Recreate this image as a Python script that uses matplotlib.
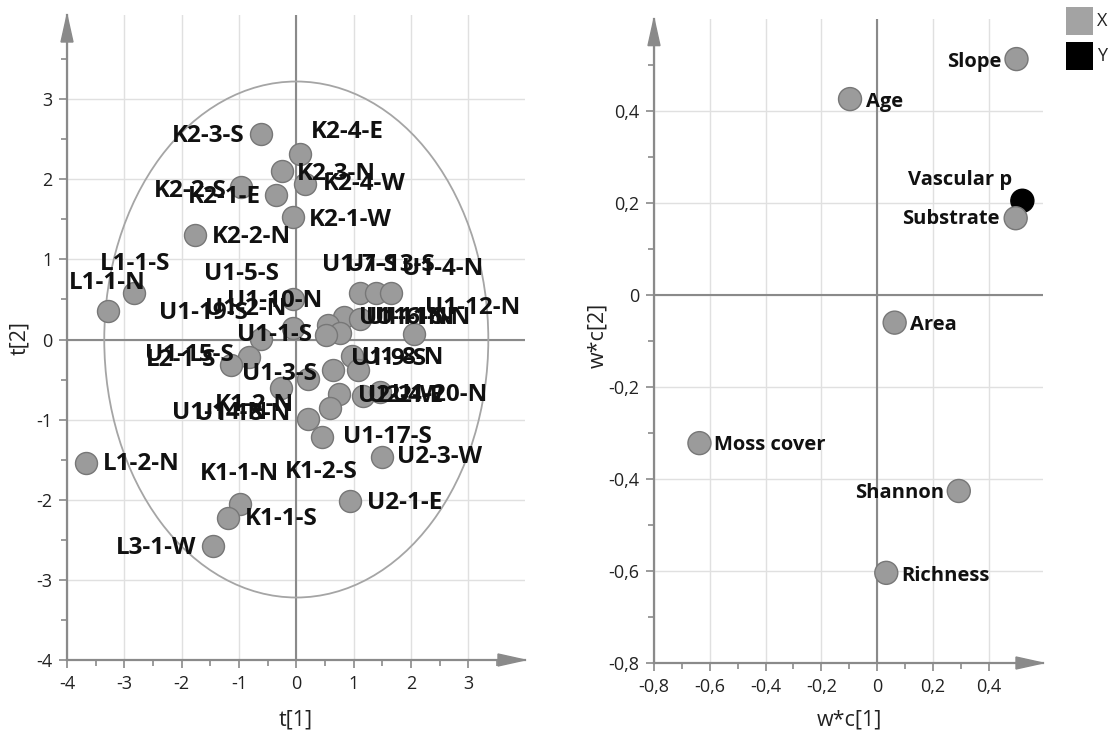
import matplotlib
matplotlib.use('Agg')
import matplotlib.pyplot as plt
from matplotlib.patches import Ellipse, Polygon, Rectangle
from matplotlib.ticker import FixedLocator

plt.rcParams['font.family'] = ['Open Sans', 'DejaVu Sans']

# ---------------- Score plot (t[1] vs t[2]) ----------------
obs_names = ['K2-3-S', 'K2-4-E', 'K2-3-N', 'K2-4-W', 'K2-2-S', 'K2-1-E', 'K2-1-W', 'K2-2-N',
             'L1-1-S', 'L1-1-N', 'U1-10-N', 'U1-7-S', 'U1-13-S', 'U1-4-N', 'U1-11-N', 'U1-5-S',
             'U1-16-N', 'U1-2-N', 'U1-6-N', 'U1-12-N', 'U1-1-S', 'U1-19-S', 'U1-15-S', 'L2-1-S',
             'U1-3-S', 'K1-2-S', 'U1-9-S', 'U1-8-N', 'U1-14-N', 'U2-2-W', 'U2-4-E', 'U1-20-N',
             'K1-2-N', 'U1-18-N', 'U1-17-S', 'U2-3-W', 'L1-2-N', 'U2-1-E', 'K1-1-N', 'K1-1-S',
             'L3-1-W']
t1 = [-0.62, 0.07, -0.25, 0.16, -0.96, -0.35, -0.05, -1.76,
      -2.83, -3.29, -0.06, 1.11, 1.39, 1.66, 0.84, 0.55,
      1.11, 0.76, 0.52, 2.05, -0.06, -0.61, -0.82, -1.14,
      0.20, 0.64, 0.98, 1.08, -0.26, 0.74, 1.16, 1.46,
      0.58, 0.20, 0.44, 1.50, -3.66, 0.93, -0.99, -1.20,
      -1.46]
t2 = [2.56, 2.32, 2.10, 1.94, 1.90, 1.80, 1.53, 1.30,
      0.58, 0.36, 0.51, 0.58, 0.58, 0.58, 0.28, 0.18,
      0.25, 0.08, 0.05, 0.07, 0.14, 0.01, -0.22, -0.32,
      -0.49, -0.38, -0.20, -0.38, -0.61, -0.68, -0.70, -0.66,
      -0.86, -0.99, -1.22, -1.47, -1.54, -2.02, -2.05, -2.23,
      -2.58]
ellipse_radii = (3.35, 3.22)

score_ticks = [-4, -3, -2, -1, 0, 1, 2, 3]
score_ticklabels = ['-4', '-3', '-2', '-1', '0', '1', '2', '3']
score_minor = [-3.5, -2.5, -1.5, -0.5, 0.5, 1.5, 2.5, 3.5]

# label layout (pixel offsets from the point, horizontal alignment)
obs_label_layout = [(-16, -2, 'right'), (11, 22, 'left'), (15, -3, 'left'), (17, 0, 'left'),
                    (-15, -4, 'right'), (-15, -2, 'right'), (15, -3, 'left'), (16, -2, 'left'),
                    (1, 29, 'center'), (0, 28, 'center'), (-66, -2, 'left'), (-38, 28, 'left'),
                    (-30, 28, 'left'), (11, 24, 'left'), (15, -1, 'left'), (-124, 51, 'left'),
                    (15, 1, 'left'), (-135, 24, 'left'), (40, 17, 'left'), (11, 26, 'left'),
                    (-56, -7, 'left'), (-102, 26, 'left'), (-15, 2, 'right'), (-15, 5, 'right'),
                    (-66, 5, 'left'), (-48, -102, 'left'), (-1, -3, 'left'), (4, 12, 'left'),
                    (-109, -25, 'left'), (19, -2, 'left'), (5, 0, 'left'), (12, -3, 'left'),
                    (-115, 3, 'left'), (-113, 5, 'left'), (21, 0, 'left'), (15, 0, 'left'),
                    (16, -1, 'left'), (17, -2, 'left'), (0, 30, 'center'), (17, -1, 'left'),
                    (-16, -2, 'right')]

# ---------------- Loading plot (w*c[1] vs w*c[2]) ----------------
var_names = ['Slope', 'Age', 'Vascular p', 'Substrate', 'Area', 'Moss cover', 'Shannon', 'Richness']
wc1 = [0.500, -0.097, 0.521, 0.497, 0.063, -0.637, 0.293, 0.033]
wc2 = [0.513, 0.426, 0.205, 0.167, -0.060, -0.322, -0.426, -0.604]
var_block = ['X', 'X', 'Y', 'X', 'X', 'X', 'X', 'X']
var_label_layout = [(-15, -3, 'right'), (16, -3, 'left'), (-10, 21, 'right'), (-16, -1, 'right'),
                    (15, -2, 'left'), (15, -2, 'left'), (-15, -2, 'right'), (15, -3, 'left')]

load_xticks = [-0.8, -0.6, -0.4, -0.2, 0.0, 0.2, 0.4]
load_xticklabels = ['-0,8', '-0,6', '-0,4', '-0,2', '0', '0,2', '0,4']
load_xminor = [-0.7, -0.5, -0.3, -0.1, 0.1, 0.3]
load_yticks = [-0.8, -0.6, -0.4, -0.2, 0.0, 0.2, 0.4]
load_yticklabels = ['-0,8', '-0,6', '-0,4', '-0,2', '0', '0,2', '0,4']
load_yminor = [-0.7, -0.5, -0.3, -0.1, 0.1, 0.3, 0.5]

legend_labels = ['X', 'Y']
legend_colors = ['#a3a3a3', '#000000']

# ---------------- styling ----------------
W, H = 1110, 734
AX_GRAY = '#8a8a8a'
GRID = '#e0e0e0'
PT_FILL = '#9b9b9b'
PT_EDGE = '#777777'
TXT = '#222222'

fig = plt.figure(figsize=(W / 100, H / 100), dpi=100)


def px_axes(x0, x1, ytop, ybot):
    return fig.add_axes([x0 / W, 1 - ybot / H, (x1 - x0) / W, (ybot - ytop) / H])


def style(ax, xlim, ylim, xt, xtl, xm, yt, ytl, ym, wpx, hpx):
    ax.set_xlim(xlim)
    ax.set_ylim(ylim)
    for s in ['top', 'right']:
        ax.spines[s].set_visible(False)
    for s in ['left', 'bottom']:
        ax.spines[s].set_color(AX_GRAY)
        ax.spines[s].set_linewidth(1.6)
    ax.xaxis.set_major_locator(FixedLocator(xt))
    ax.set_xticklabels(xtl)
    ax.yaxis.set_major_locator(FixedLocator(yt))
    ax.set_yticklabels(ytl)
    ax.xaxis.set_minor_locator(FixedLocator(xm))
    ax.yaxis.set_minor_locator(FixedLocator(ym))
    ax.tick_params(which='major', length=5.5, width=1.2, color=AX_GRAY, labelsize=13,
                   labelcolor=TXT, pad=5)
    ax.tick_params(which='minor', length=4, width=1.2, color=AX_GRAY)
    ax.grid(True, which='major', color=GRID, lw=1.0)
    ax.set_axisbelow(True)
    ax.axhline(0, color=AX_GRAY, lw=1.5, zorder=1.5)
    ax.axvline(0, color=AX_GRAY, lw=1.5, zorder=1.5)
    # arrow heads on the axes ends
    L, hw = 27.0, 6.0
    ax.add_patch(Polygon([(1, 0), (1 - L / wpx, hw / hpx), (1 - L / wpx, -hw / hpx)], closed=True,
                         transform=ax.transAxes, color=AX_GRAY, clip_on=False, zorder=5))
    ax.add_patch(Polygon([(0, 1), (hw / wpx, 1 - L / hpx), (-hw / wpx, 1 - L / hpx)], closed=True,
                         transform=ax.transAxes, color=AX_GRAY, clip_on=False, zorder=5))


# ---- left: score plot ----
ax1 = px_axes(67, 525, 15, 660)
style(ax1, (-4, 3.99), (-4, 4.05), score_ticks, score_ticklabels, score_minor,
      score_ticks, score_ticklabels, score_minor, 458, 645)
ax1.add_patch(Ellipse((0, 0), 2 * ellipse_radii[0], 2 * ellipse_radii[1], fill=False,
                      edgecolor='#a5a5a5', lw=1.3, zorder=2))
ax1.scatter(t1, t2, s=(22 * 0.72) ** 2, c=PT_FILL, edgecolors=PT_EDGE, linewidths=1.0, zorder=3)
for name, x, y, (dx, dy, ha) in zip(obs_names, t1, t2, obs_label_layout):
    ax1.annotate(name, (x, y), xytext=(dx, dy), textcoords='offset pixels', ha=ha, va='center',
                 fontsize=17.5, fontweight='bold', color='#111111', zorder=4)

# ---- right: loading plot ----
ax2 = px_axes(654, 1043, 18.6, 663)
style(ax2, (-0.8, 0.595), (-0.8, 0.601), load_xticks, load_xticklabels, load_xminor,
      load_yticks, load_yticklabels, load_yminor, 389, 644.4)
block_fill = {'X': '#9b9b9b', 'Y': '#000000'}
block_edge = {'X': '#777777', 'Y': '#000000'}
ax2.scatter(wc1, wc2, s=(23 * 0.72) ** 2, c=[block_fill[b] for b in var_block],
            edgecolors=[block_edge[b] for b in var_block], linewidths=1.0, zorder=3)
for name, x, y, (dx, dy, ha) in zip(var_names, wc1, wc2, var_label_layout):
    ax2.annotate(name, (x, y), xytext=(dx, dy), textcoords='offset pixels', ha=ha, va='center',
                 fontsize=14.5, fontweight='bold', color='#111111', zorder=4)

# axis titles
fig.text(296 / W, 1 - 720 / H, 't[1]', ha='center', va='center', fontsize=15.5, color=TXT)
fig.text(20 / W, 1 - 338 / H, 't[2]', ha='center', va='center', fontsize=15.5, color=TXT, rotation=90)
fig.text(849 / W, 1 - 720 / H, 'w*c[1]', ha='center', va='center', fontsize=15.5, color=TXT)
fig.text(598 / W, 1 - 335 / H, 'w*c[2]', ha='center', va='center', fontsize=15.5, color=TXT, rotation=90)

# legend (top right)
for i, (lab, col) in enumerate(zip(legend_labels, legend_colors)):
    ytop = 7 + i * 35
    fig.patches.append(Rectangle((1066 / W, 1 - (ytop + 28) / H), 27 / W, 28 / H,
                                 transform=fig.transFigure, facecolor=col, edgecolor='none'))
    fig.text(1097 / W, 1 - (ytop + 14) / H, lab, ha='left', va='center', fontsize=13, color=TXT)

fig.savefig('out.png', dpi=100)
